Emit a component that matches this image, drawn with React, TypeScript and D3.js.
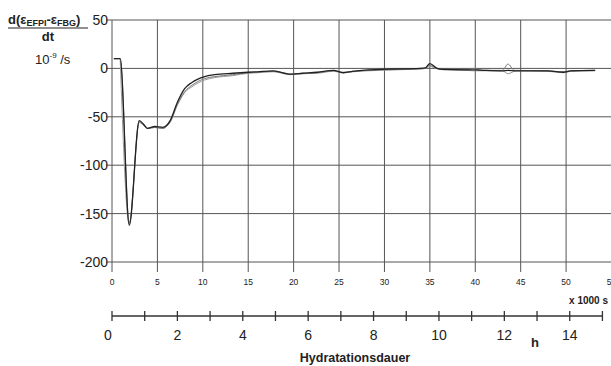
import React from "react";
import * as d3 from "d3";

const xTicks = [0, 5, 10, 15, 20, 25, 30, 35, 40, 45, 50, 55];
const yTicks = [50, 0, -50, -100, -150, -200];
const hourTicks = d3.range(0, 16);
const hourLabels = [0, 2, 4, 6, 8, 10, 12, 14];

// time in 1000 s, value in 1e-9 /s
const seriesMain: [number, number][] = [
  [0.2, 10], [0.9, 10], [1.9, -162], [3.0, -54], [3.5, -58], [3.9, -62], [4.7, -60], [5.6, -61],
  [6.0, -59], [6.4, -54], [7.2, -35], [8.0, -21], [8.8, -14.5], [10.2, -8.5], [11.3, -6.5],
  [13.3, -5], [15, -4], [16, -3.5], [17.7, -2.5], [19, -5], [19.6, -6], [21, -5], [22.6, -4],
  [24.4, -2], [25.5, -4.5], [26.5, -3], [29.5, -1], [33.9, 0], [34.5, 0.5], [35, 5], [35.8, 0],
  [36.5, -1], [39, -1.5], [39.8, -1.5], [41, -2], [43, -2.5], [43.6, -2], [44.5, -2.5],
  [48, -2.5], [49.7, -4], [50.5, -2.5], [53.2, -2],
];
const seriesB: [number, number][] = [
  [0.2, 10], [0.9, 10], [1.9, -160], [3.0, -55], [3.5, -59], [3.9, -62], [4.7, -61], [5.6, -62],
  [6.0, -60], [6.4, -55], [7.2, -37], [8.0, -24], [8.8, -17.5], [10.2, -10.5], [11.3, -8.5],
  [13.3, -6.5], [15, -4.5], [16, -4], [17.7, -3], [19, -5], [19.6, -6], [21, -5], [22.6, -4.5],
  [24.4, -2.5], [25.5, -4], [26.5, -3], [29.5, -1.5], [33.9, -0.5], [34.5, 0], [35, 3], [35.8, 0],
  [36.5, -1], [39, -1.5], [39.8, 0], [40.4, -1.5], [41, -2], [43, -2], [43.6, 4.5], [44.3, -2],
  [48, -2.5], [49.7, -3.5], [50.5, -2.5], [53.2, -2],
];
const seriesC: [number, number][] = [
  [0.9, 10], [1.9, -161], [3.0, -56], [3.5, -59], [3.9, -62], [4.7, -61], [5.6, -62],
  [6.0, -60], [6.4, -56], [7.2, -38], [8.0, -25], [8.8, -19], [10.2, -12], [11.3, -9.5],
  [13.3, -7.5], [15, -5], [16, -4.5], [17.7, -3.5], [19, -5.5], [19.6, -6.5], [21, -5.5], [22.6, -5],
  [24.4, -3], [25.5, -4.5], [26.5, -3.5], [29.5, -2], [33.9, -0.5], [34.5, 0], [35, 2], [35.8, -0.5],
  [36.5, -1.5], [39, -2], [39.8, -2.5], [41, -2.5], [43, -2.5], [43.6, -5.5], [44.5, -2.5],
  [48, -3], [49.7, -4.5], [50.5, -3], [53.2, -2.5],
];

const W = 611;
const H = 366;
const font = "'Liberation Sans', Arial, sans-serif";

export default function App() {
  const x = d3.scaleLinear().domain([0, 55]).range([112, 611.5]);
  const y = d3.scaleLinear().domain([50, -200]).range([20, 262]);
  const hx = (h: number) => x(h * 3.6);
  const line = d3
    .line<[number, number]>()
    .x((d) => x(d[0]))
    .y((d) => y(d[1]))
    .curve(d3.curveMonotoneX);

  return (
    <svg width={W} height={H} style={{ position: "absolute", left: 0, top: 0, background: "#fff" }} fontFamily={font}>
      <rect x={0} y={0} width={W} height={H} fill="#fff" />
      {xTicks.map((t) => (
        <line key={"vx" + t} x1={x(t)} x2={x(t)} y1={y(50)} y2={272} stroke="#555" strokeWidth={1} />
      ))}
      {yTicks.map((t) => (
        <line key={"hy" + t} x1={106} x2={W} y1={y(t)} y2={y(t)} stroke="#555" strokeWidth={1} />
      ))}
      {yTicks.map((t) => (
        <text key={"yl" + t} x={108} y={y(t) + 5} fontSize={14} textAnchor="end" fill="#222">
          {t}
        </text>
      ))}
      {xTicks.map((t) => (
        <text key={"xl" + t} x={x(t)} y={285} fontSize={8.5} textAnchor="middle" fill="#222">
          {t}
        </text>
      ))}
      <text x={608} y={304} fontSize={10} fontWeight="bold" textAnchor="end" fill="#222">
        x 1000 s
      </text>
      <path d={line(seriesC) ?? ""} fill="none" stroke="#999" strokeWidth={1} />
      <path d={line(seriesB) ?? ""} fill="none" stroke="#777" strokeWidth={1} />
      <path d={line(seriesMain) ?? ""} fill="none" stroke="#222" strokeWidth={1.3} />
      <line x1={hx(0)} x2={hx(15)} y1={316} y2={316} stroke="#333" strokeWidth={1.5} />
      {hourTicks.map((h) => (
        <line key={"ht" + h} x1={hx(h)} x2={hx(h)} y1={311} y2={321} stroke="#333" strokeWidth={1.3} />
      ))}
      {hourLabels.map((h) => (
        <text key={"hl" + h} x={hx(h) - (h === 0 ? 4 : 0)} y={340} fontSize={14} textAnchor="middle" fill="#222">
          {h}
        </text>
      ))}
      <text x={535} y={347} fontSize={13} fontWeight="bold" textAnchor="middle" fill="#222">
        h
      </text>
      <text x={355} y={362} fontSize={12.5} fontWeight="bold" textAnchor="middle" fill="#222">
        Hydratationsdauer
      </text>
      <text x={8} y={24} fontSize={13} fontWeight="bold" fill="#222">
        d(ε<tspan fontSize={9} dy={2}>EFPI</tspan>
        <tspan dy={-2}>-ε</tspan>
        <tspan fontSize={9} dy={2}>FBG</tspan>
        <tspan dy={-2}>)</tspan>
      </text>
      <line x1={8} x2={88} y1={28} y2={28} stroke="#222" strokeWidth={1.2} />
      <text x={48} y={41} fontSize={13} fontWeight="bold" textAnchor="middle" fill="#222">
        dt
      </text>
      <text x={35} y={64} fontSize={13} fill="#222">
        10<tspan fontSize={8} dy={-6}>-9</tspan>
        <tspan dy={6}> /s</tspan>
      </text>
    </svg>
  );
}
